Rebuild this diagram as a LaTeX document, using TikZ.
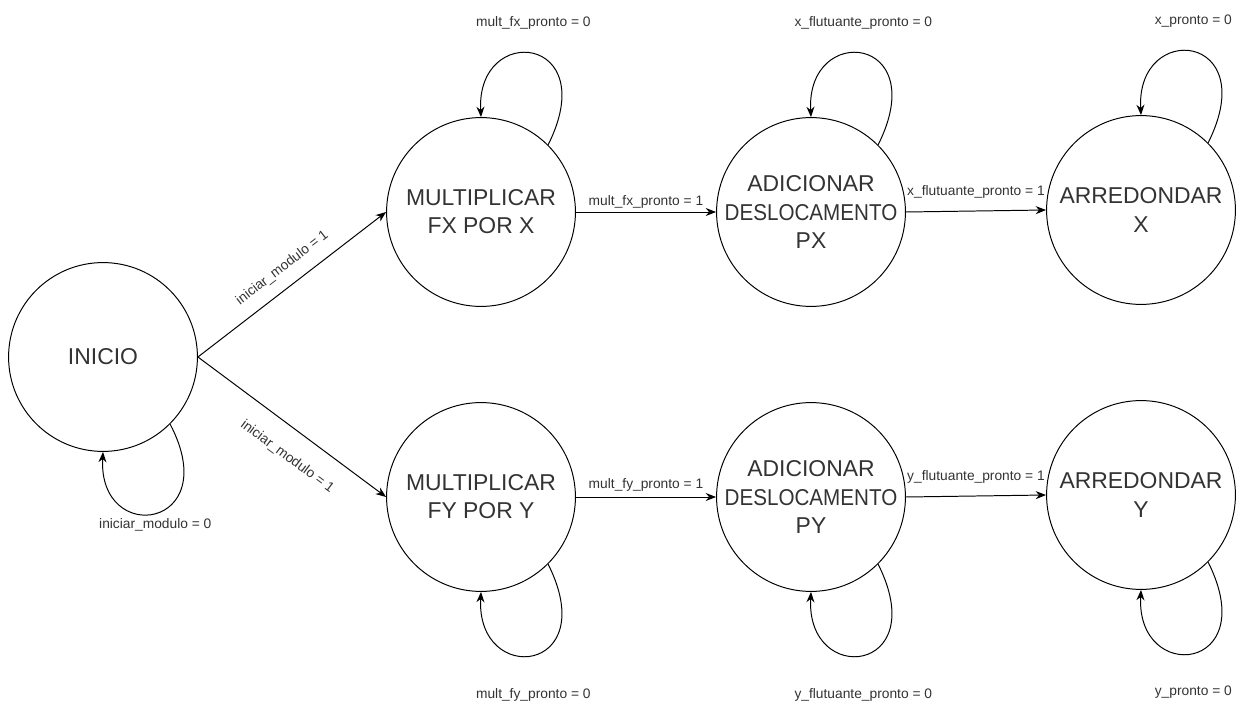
\documentclass[tikz,border=0pt]{standalone}
\usepackage{fontspec}
\setmainfont{Liberation Sans}
\usepackage{graphicx}
\usepackage{tikz}
\usetikzlibrary{arrows.meta,positioning}
\definecolor{txtg}{HTML}{333333}
\newcommand{\largo}[1]{\makebox[0pt]{\scalebox{0.9}[1]{#1}}}
\tikzset{
  st/.style={draw, circle, line width=0.7pt, minimum size=4.72cm, inner sep=0pt, align=center, text=txtg, font=\fontsize{16.3}{20}\selectfont},
  lbl/.style={font=\fontsize{9.8}{11}\selectfont, text=txtg, inner sep=0pt},
  fl/.style={-{Stealth[length=2.6mm, width=2mm]}, line width=0.7pt},
}
\begin{document}
\begin{tikzpicture}[x=0.025cm, y=-0.025cm]
  \useasboundingbox (0,0) rectangle (1241,701);
  % estados
  \node[st] (ini) at (103,357) {INICIO};
  \node[st] (mfx) at (481,212) {MULTIPLICAR\\FX POR X};
  \node[st] (dpx) at (811,212) {ADICIONAR\\\largo{DESLOCAMENTO}\\PX};
  \node[st] (arx) at (1141,210) {ARREDONDAR\\X};
  \node[st] (mfy) at (481,497) {MULTIPLICAR\\FY POR Y};
  \node[st] (dpy) at (811,497) {ADICIONAR\\\largo{DESLOCAMENTO}\\PY};
  \node[st] (ary) at (1141,495) {ARREDONDAR\\Y};
  % transicoes
  \draw[fl] (ini.east) -- node[lbl, sloped, pos=0.51, above=3mm] {iniciar\_modulo = 1} (mfx.west);
  \draw[fl] (ini.east) -- node[lbl, sloped, pos=0.56, below=5mm] {iniciar\_modulo = 1} (mfy.west);
  \draw[fl] (mfx.east) -- node[lbl, above=0.8mm] {mult\_fx\_pronto = 1} (dpx.west);
  \draw[fl] (dpx.east) -- node[lbl, above=3mm] {x\_flutuante\_pronto = 1} (arx.west);
  \draw[fl] (mfy.east) -- node[lbl, above=1.4mm] {mult\_fy\_pronto = 1} (dpy.west);
  \draw[fl] (dpy.east) -- node[lbl, above=3.1mm] {y\_flutuante\_pronto = 1} (ary.west);
  % lacos
  \draw[fl] (ini.-45) .. controls +(55,105) and +(-5,95) .. node[lbl, below=1.2mm] {iniciar\_modulo = 0} (ini.south);
  \draw[fl] (mfx.45) .. controls +(55,-110) and +(-5,-95) .. node[lbl, above=6mm] {mult\_fx\_pronto = 0} (mfx.north);
  \draw[fl] (dpx.45) .. controls +(55,-110) and +(-5,-95) .. node[lbl, above=6mm] {x\_flutuante\_pronto = 0} (dpx.north);
  \draw[fl] (arx.45) .. controls +(55,-110) and +(-5,-95) .. node[lbl, above=6mm] {x\_pronto = 0} (arx.north);
  \draw[fl] (mfy.-45) .. controls +(55,110) and +(-5,95) .. node[lbl, below=8.2mm] {mult\_fy\_pronto = 0} (mfy.south);
  \draw[fl] (dpy.-45) .. controls +(55,110) and +(-5,95) .. node[lbl, below=8.2mm] {y\_flutuante\_pronto = 0} (dpy.south);
  \draw[fl] (ary.-45) .. controls +(55,110) and +(-5,95) .. node[lbl, below=8.2mm] {y\_pronto = 0} (ary.south);
\end{tikzpicture}
\end{document}
